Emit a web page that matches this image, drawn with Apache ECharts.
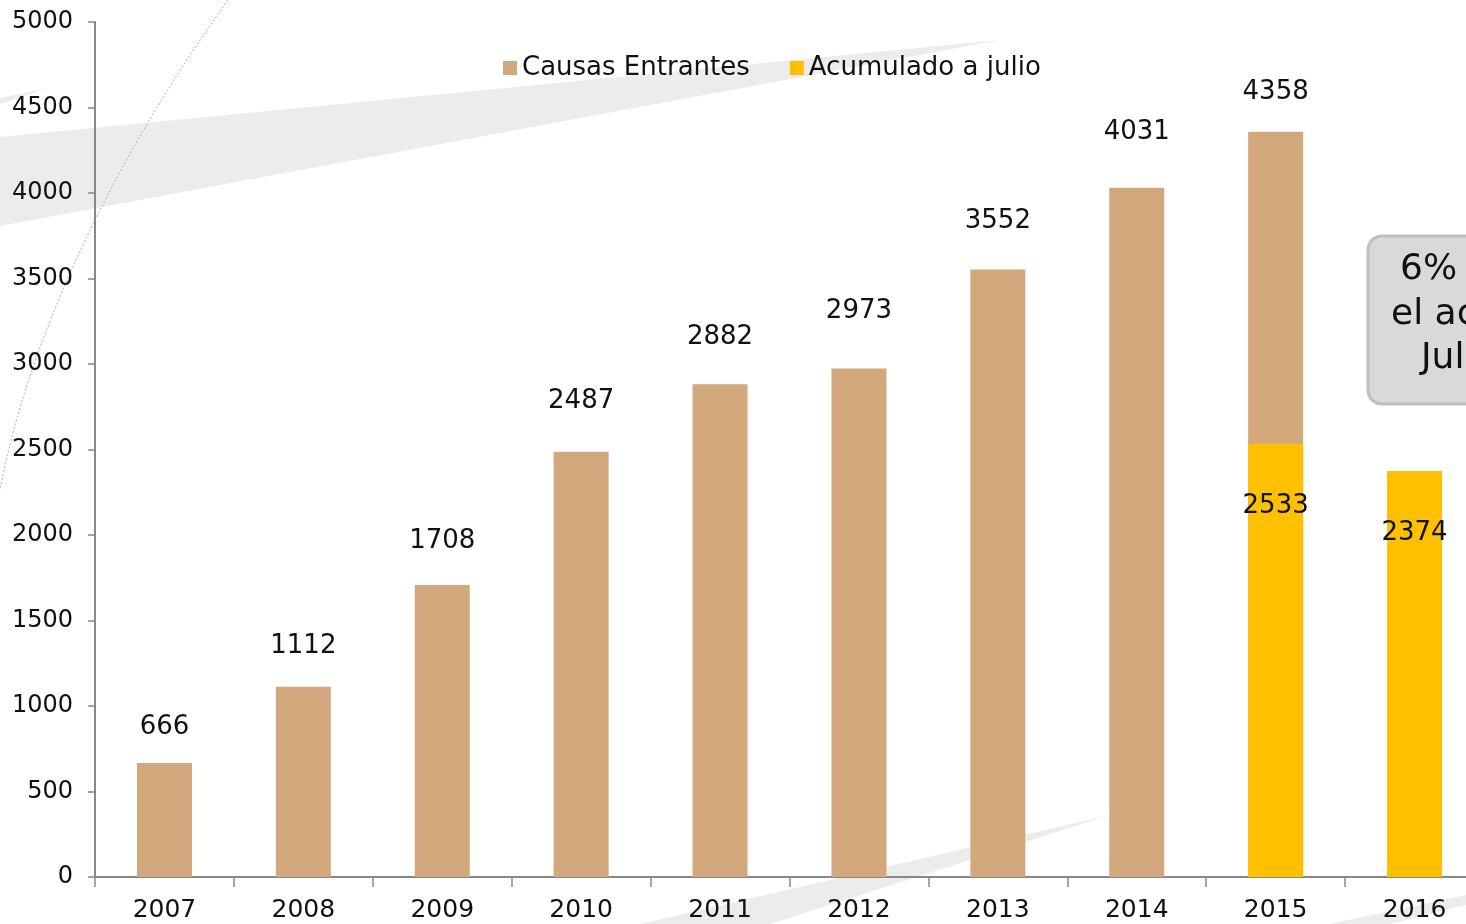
<!DOCTYPE html>
<html>
<head>
<meta charset="utf-8">
<script src="https://cdn.jsdelivr.net/npm/echarts@6/dist/echarts.min.js"></script>
<style>
  html, body { margin: 0; padding: 0; background: #fff; overflow: hidden; }
  /* the plot runs past the right edge of the window, as in the original slide */
  #chart-box { width: 1484px; height: 924px; }
</style>
</head>
<body>
<div id="chart-box"></div>
<script>
var years = ['2007', '2008', '2009', '2010', '2011', '2012', '2013', '2014', '2015', '2016'];
var causasEntrantes = [666, 1112, 1708, 2487, 2882, 2973, 3552, 4031, 4358, null];
var acumuladoJulio = [null, null, null, null, null, null, null, null, 2533, 2374];
var yTicks = { min: 0, max: 5000, interval: 500 };

var font = 'DejaVu Sans';
// labels were nudged by hand in the original, so the gap above each bar varies
var labelGap = [23, 28, 31, 37, 34, 44, 35, 42, 27, 0];

// decorative background shapes
function backgroundShapes() {
    return [
        {
            type: 'polygon', z: -10, silent: true,
            shape: { points: [[0, 137], [1000, 40], [0, 226]] },
            style: { fill: '#ececec' }
        },
        {
            type: 'polygon', z: -10, silent: true,
            shape: { points: [[0, 98], [48, 88], [0, 104]] },
            style: { fill: '#ececec' }
        },
        {
            type: 'polygon', z: -10, silent: true,
            shape: { points: [[640, 924], [1110, 815], [770, 924]] },
            style: { fill: '#ececec' }
        },
        {
            type: 'polygon', z: -10, silent: true,
            shape: { points: [[1330, 924], [1466, 895], [1466, 905], [1390, 924]] },
            style: { fill: '#ececec' }
        },
        {
            type: 'bezierCurve', z: -9, silent: true,
            shape: { x1: 228, y1: 0, x2: 0, y2: 490, cpx1: 120, cpy1: 150, cpx2: 30, cpy2: 330 },
            style: { stroke: '#b8b09a', lineWidth: 1, lineDash: [2, 2], fill: null }
        },
        {
            type: 'rect', z: 10, silent: true,
            shape: { x: 1368, y: 236, width: 200, height: 168, r: 14 },
            style: { fill: '#d9d9d9', stroke: '#bfbfbf', lineWidth: 3 }
        },
        {
            type: 'text', z: 11, silent: true, left: 1400, top: 252,
            style: { text: '6% más que', font: '36px "' + font + '"', fill: '#111' }
        },
        {
            type: 'text', z: 11, silent: true, left: 1391, top: 297,
            style: { text: 'el acumulado', font: '36px "' + font + '"', fill: '#111' }
        },
        {
            type: 'text', z: 11, silent: true, left: 1421, top: 341,
            style: { text: 'Julio 2015', font: '36px "' + font + '"', fill: '#111' }
        }
    ];
}

var causasData = causasEntrantes.map(function(v, i) {
    return { value: v, label: { distance: labelGap[i] } };
});

var chart = echarts.init(document.getElementById('chart-box'));
var option = {
    backgroundColor: '#fff',
    animation: false,
    textStyle: { fontFamily: font },
    graphic: backgroundShapes(),
    legend: {
        left: 498, top: 50,
        itemWidth: 14, itemHeight: 14, itemGap: 40,
        icon: 'rect',
        textStyle: { fontSize: 26, color: '#111', fontFamily: font },
        data: ['Causas Entrantes', 'Acumulado a julio']
    },
    grid: { left: 95, top: 22, bottom: 47, right: 0 },
    xAxis: {
        type: 'category',
        data: years,
        axisLine: { lineStyle: { color: '#888', width: 2 } },
        axisTick: { show: true, alignWithLabel: false, length: 10, lineStyle: { color: '#888', width: 1.5 } },
        axisLabel: { color: '#111', fontSize: 25, margin: 21, fontFamily: font }
    },
    yAxis: {
        type: 'value',
        min: yTicks.min, max: yTicks.max, interval: yTicks.interval,
        splitLine: { show: false },
        axisLine: { show: true, lineStyle: { color: '#888', width: 2 } },
        axisTick: { show: true, length: 7, lineStyle: { color: '#888', width: 1.5 } },
        axisLabel: {
            color: '#111', fontSize: 24, margin: 22, fontFamily: font,
            formatter: function(v) { return String(v); }
        }
    },
    series: [
        {
            name: 'Causas Entrantes',
            type: 'bar',
            data: causasData,
            barWidth: 55,
            barGap: '-100%',
            itemStyle: { color: '#D3A87C' },
            label: { show: true, position: 'top', distance: 32, fontSize: 26, color: '#111', fontFamily: font }
        },
        {
            name: 'Acumulado a julio',
            type: 'bar',
            data: acumuladoJulio,
            barWidth: 55,
            itemStyle: { color: '#FFC000' },
            label: { show: true, position: 'insideTop', distance: 49, fontSize: 26, color: '#111', fontFamily: font }
        }
    ]
};
chart.setOption(option);
</script>
</body>
</html>
